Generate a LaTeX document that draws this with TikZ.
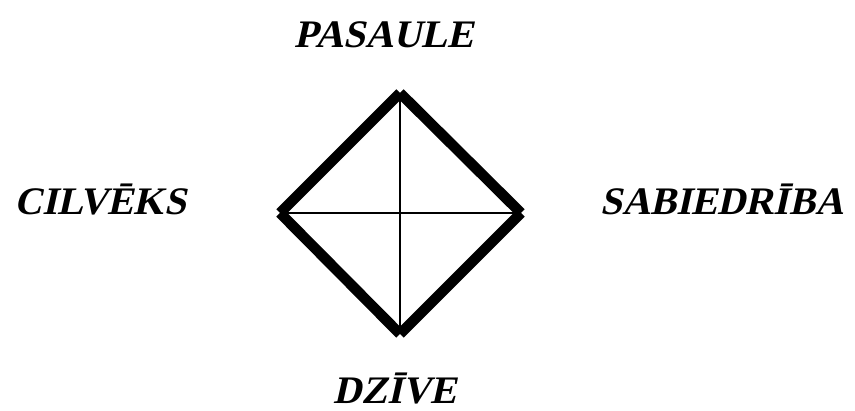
\documentclass[tikz,border=0pt]{standalone}
\usepackage{fontspec}
\setmainfont{Liberation Serif}
\newfontfamily\lblfont{Liberation Serif Bold}
\begin{document}
\begin{tikzpicture}[x=1pt,y=-1pt,
  edge/.style={line width=10.5pt,line cap=butt},
  cross/.style={line width=1.3pt},
  lbl/.style={font=\fontsize{39}{44}\selectfont\lblfont,anchor=base,inner sep=0pt,xslant=0.22,transform shape}]
\useasboundingbox (0,0) rectangle (855,411);
\coordinate (t) at (400,93);
\coordinate (l) at (280,213);
\coordinate (r) at (521,213);
\coordinate (b) at (400,334);
\draw[edge] (t) -- (l);
\draw[edge] (t) -- (r);
\draw[edge] (l) -- (b);
\draw[edge] (r) -- (b);
\draw[cross] (t) -- (b);
\draw[cross] (l) -- (r);
\node[lbl] (pas) at (384,48) {PASAULE};
\node[lbl] (cil) at (100,215) {CILVĒKS};
\node[lbl] (sab) at (722,215) {SABIEDRĪBA};
\node[lbl] (dz) at (395,404) {DZĪVE};
\end{tikzpicture}
\end{document}
